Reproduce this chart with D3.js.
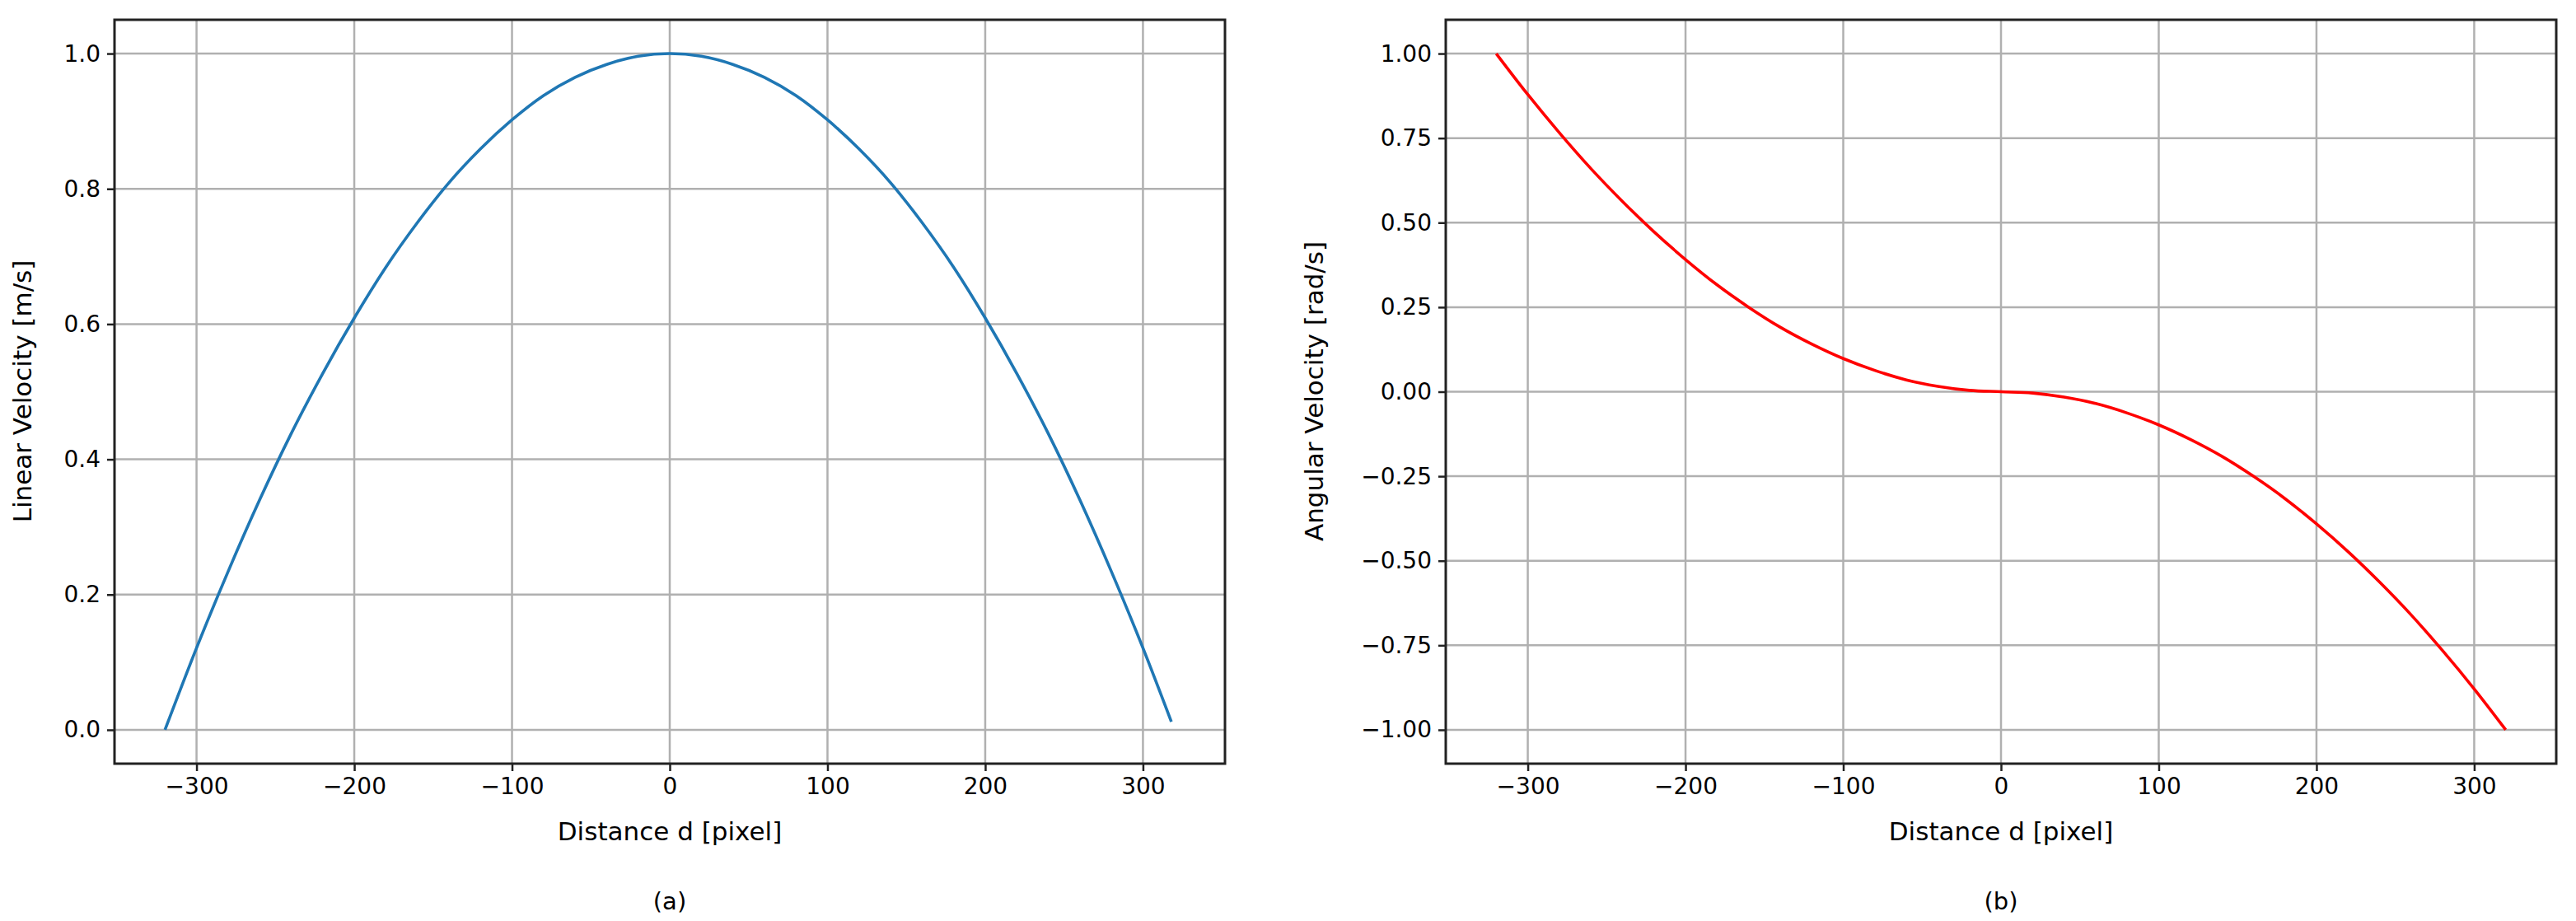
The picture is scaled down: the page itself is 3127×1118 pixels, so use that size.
<!DOCTYPE html>
<html><head><meta charset="utf-8">
<script src="https://cdn.jsdelivr.net/npm/d3@7"></script>
<style>body{margin:0;background:#fff}text{font-family:"DejaVu Sans",sans-serif;fill:#000}</style>
</head><body><svg id="c" width="3127" height="1118"></svg>
<script>
const distance = [-320,-300,-280,-260,-240,-220,-200,-180,-160,-140,-120,-100,-80,-60,-40,-20,0,20,40,60,80,100,120,140,160,180,200,220,240,260,280,300,318];
const linearVel = [0,0.121,0.234,0.340,0.438,0.527,0.609,0.684,0.750,0.809,0.859,0.902,0.938,0.965,0.984,0.996,1,0.996,0.984,0.965,0.938,0.902,0.859,0.809,0.750,0.684,0.609,0.527,0.438,0.340,0.234,0.121,0.012];
const distanceB = [-320,-300,-280,-260,-240,-220,-200,-180,-160,-140,-120,-100,-80,-60,-40,-20,0,20,40,60,80,100,120,140,160,180,200,220,240,260,280,300,320];
const angularVel = [1,0.879,0.766,0.660,0.563,0.473,0.391,0.316,0.250,0.191,0.141,0.098,0.063,0.035,0.016,0.004,0,-0.004,-0.016,-0.035,-0.063,-0.098,-0.141,-0.191,-0.250,-0.316,-0.391,-0.473,-0.563,-0.660,-0.766,-0.879,-1];
const xTicks = [-300,-200,-100,0,100,200,300];
const yTicksA = [0,0.2,0.4,0.6,0.8,1.0];
const yTicksB = [-1,-0.75,-0.5,-0.25,0,0.25,0.5,0.75,1];

const svg = d3.select("#c");
const fmtMinus = s => s.replace("-", "\u2212");
function panel(o){
  const g = svg.append("g");
  const x = d3.scaleLinear().domain([-352,352]).range([o.l,o.r]);
  const y = d3.scaleLinear().domain(o.yd).range([927,24]);
  g.selectAll(".gx").data(xTicks).join("line").attr("x1",d=>x(d)).attr("x2",d=>x(d)).attr("y1",24).attr("y2",927).attr("stroke","#b0b0b0").attr("stroke-width",2.5);
  g.selectAll(".gy").data(o.yt).join("line").attr("y1",d=>y(d)).attr("y2",d=>y(d)).attr("x1",o.l).attr("x2",o.r).attr("stroke","#b0b0b0").attr("stroke-width",2.5);
  const line = d3.line().x((d,i)=>x(o.xs[i])).y(d=>y(d)).curve(d3.curveMonotoneX);
  g.append("path").datum(o.ys).attr("d",line).attr("fill","none").attr("stroke",o.color).attr("stroke-width",3.6);
  const ax = g.append("g").attr("transform","translate(0,927)").call(d3.axisBottom(x).tickValues(xTicks).tickSize(9).tickPadding(8).tickFormat(d=>fmtMinus(d3.format("d")(d))));
  const ay = g.append("g").attr("transform",`translate(${o.l},0)`).call(d3.axisLeft(y).tickValues(o.yt).tickSize(9).tickPadding(8).tickFormat(d=>fmtMinus(d3.format(o.f)(d))));
  [ax,ay].forEach(a=>{a.select(".domain").remove();a.selectAll("line").attr("stroke","#222").attr("stroke-width",2.5);a.selectAll("text").attr("font-size",28).attr("fill","#222").style("font-family","DejaVu Sans");});
  g.append("rect").attr("x",o.l).attr("y",24).attr("width",o.r-o.l).attr("height",903).attr("fill","none").attr("stroke","#222").attr("stroke-width",3);
  const cx=(o.l+o.r)/2;
  g.append("text").attr("x",cx).attr("y",1020).attr("text-anchor","middle").attr("font-size",31).text("Distance d [pixel]");
  g.append("text").attr("x",cx).attr("y",1104).attr("text-anchor","middle").attr("font-size",29).text(o.cap);
  g.append("text").attr("transform",`translate(${o.yl},475) rotate(-90)`).attr("text-anchor","middle").attr("font-size",31).text(o.ylab);
}
panel({l:139,r:1487,yd:[-0.05,1.05],yt:yTicksA,xs:distance,ys:linearVel,color:"#1f77b4",f:".1f",cap:"(a)",ylab:"Linear Velocity [m/s]",yl:38});
panel({l:1755,r:3103,yd:[-1.1,1.1],yt:yTicksB,xs:distanceB,ys:angularVel,color:"#ff0000",f:".2f",cap:"(b)",ylab:"Angular Velocity [rad/s]",yl:1606});
</script></body></html>
